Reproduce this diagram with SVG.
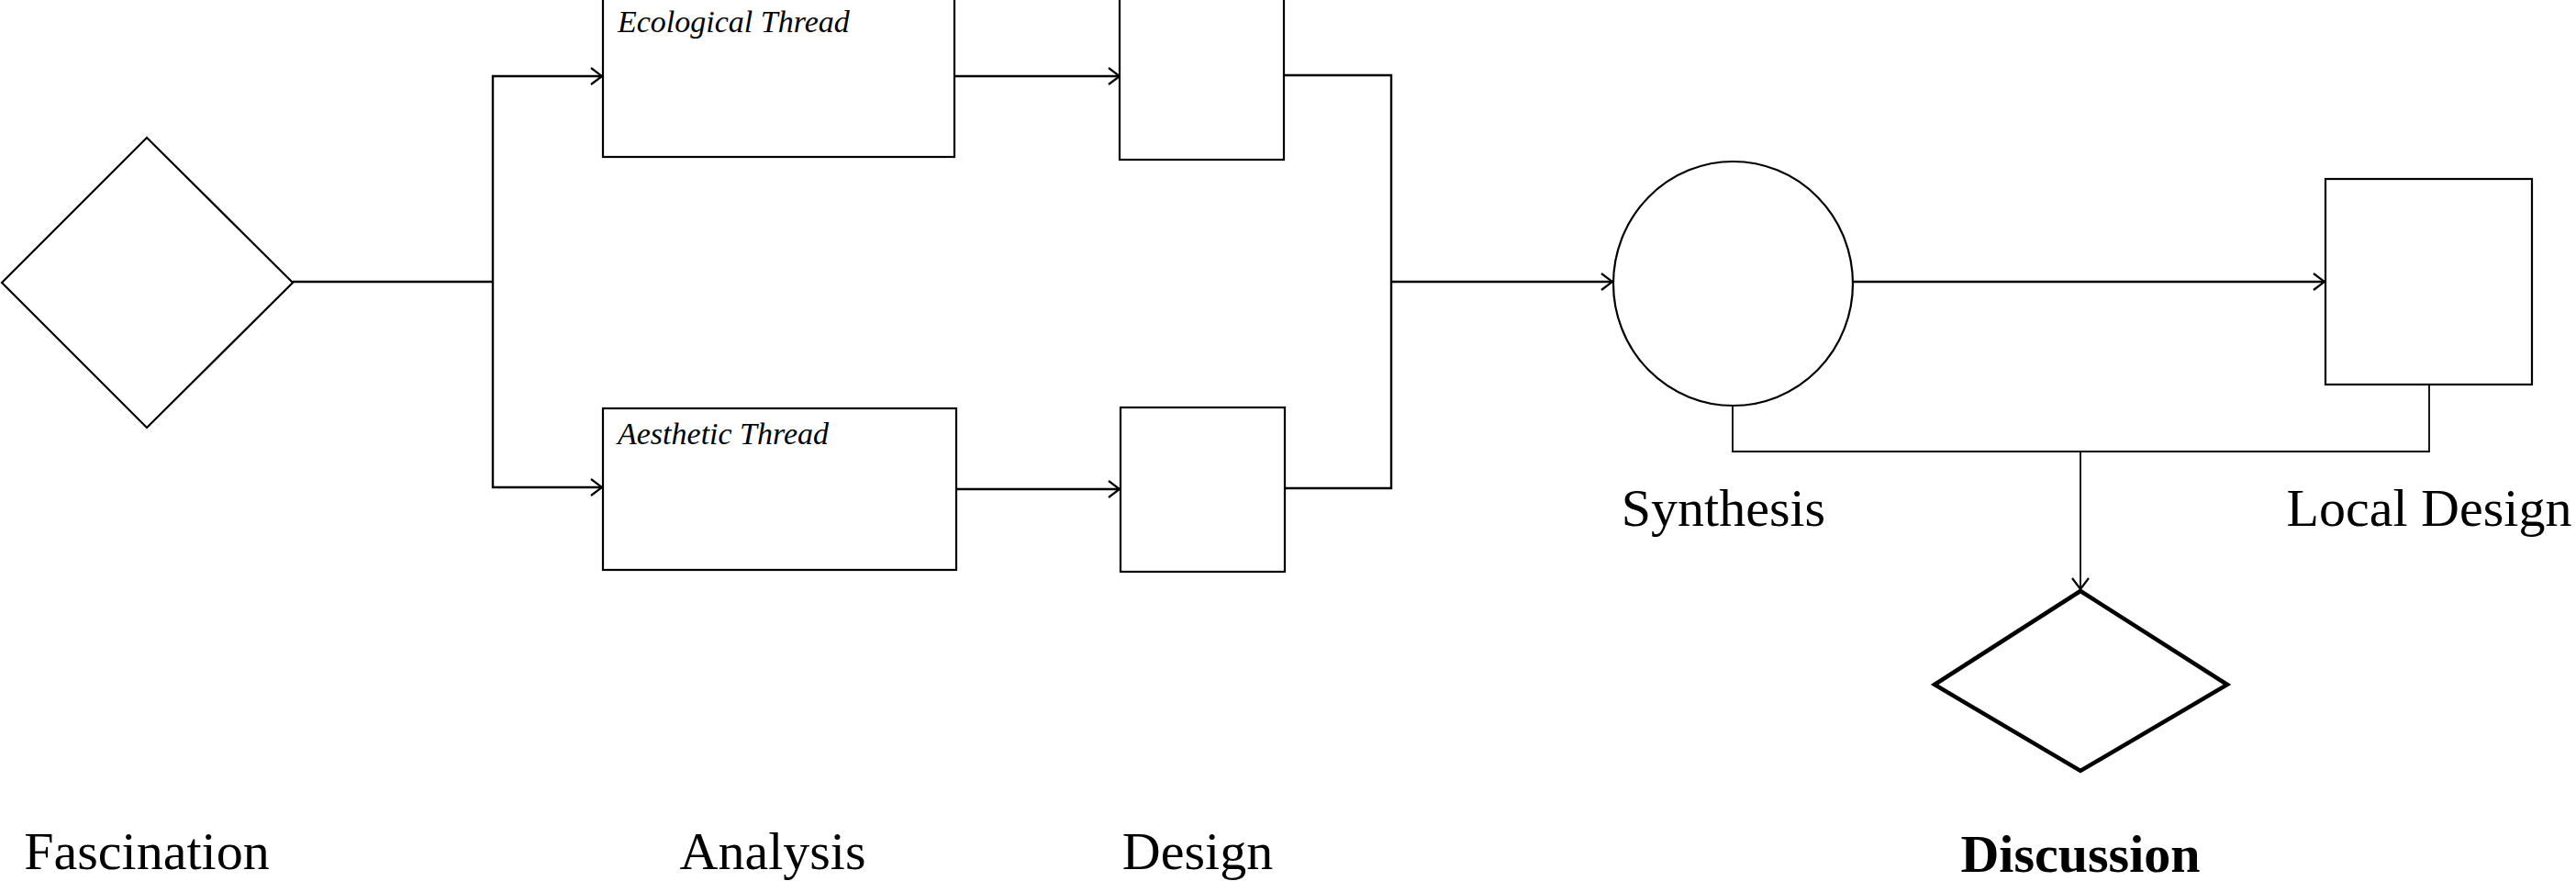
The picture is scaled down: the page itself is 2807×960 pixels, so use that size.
<svg xmlns="http://www.w3.org/2000/svg" width="2807" height="960" viewBox="0 0 2807 960">
<defs>
<style>
.shape{fill:#fff;stroke:#000;stroke-width:2.2}
.thick{fill:#fff;stroke:#000;stroke-width:4.5}
.conn{fill:none;stroke:#000;stroke-width:2.4}
.thin{fill:none;stroke:#000;stroke-width:1.8}
.lbl{font-family:"Liberation Serif","Times New Roman",serif;font-size:58px;fill:#000;text-anchor:middle}
.ital{font-family:"Liberation Serif","Times New Roman",serif;font-size:34px;font-style:italic;fill:#000}
</style>
<marker id="arr" viewBox="0 0 14 20" refX="13" refY="10" markerWidth="14" markerHeight="20" markerUnits="userSpaceOnUse" orient="auto">
<path d="M1,1 L13,10 L1,19" fill="none" stroke="#000" stroke-width="2.2"/>
</marker>
</defs>
<rect width="2807" height="960" fill="#fff"/>
<g id="connectors">
<path class="conn" d="M319,307 H537"/>
<path class="conn" d="M537,307 V83 H656" marker-end="url(#arr)"/>
<path class="conn" d="M537,307 V531 H656" marker-end="url(#arr)"/>
<path class="conn" d="M1040,83 H1220" marker-end="url(#arr)"/>
<path class="conn" d="M1042,533 H1220" marker-end="url(#arr)"/>
<path class="conn" d="M1399,82 H1516 V532 H1400"/>
<path class="conn" d="M1516,307 H1757" marker-end="url(#arr)"/>
<path class="conn" d="M2019,307 H2533" marker-end="url(#arr)"/>
<path class="thin" d="M1888,442 V492 H2647 V419"/>
<path class="thin" d="M2267,492 V642" marker-end="url(#arr)"/>
</g>
<g id="fascination">
<polygon class="shape" points="2,308 160,150 319,308 160,466"/>
<text class="lbl" x="160" y="947">Fascination</text>
</g>
<g id="ecological">
<rect class="shape" x="657" y="-10" width="383" height="181"/>
<text class="ital" x="673" y="35">Ecological Thread</text>
</g>
<g id="aesthetic">
<rect class="shape" x="657" y="445" width="385" height="176"/>
<text class="ital" x="673" y="484">Aesthetic Thread</text>
</g>
<g id="analysis">
<text class="lbl" x="842" y="947">Analysis</text>
</g>
<g id="design-top">
<rect class="shape" x="1220" y="-10" width="179" height="184"/>
</g>
<g id="design-bottom">
<rect class="shape" x="1221" y="444" width="179" height="179"/>
<text class="lbl" x="1305" y="947">Design</text>
</g>
<g id="synthesis">
<ellipse class="shape" cx="1888.5" cy="309" rx="130.5" ry="133"/>
<text class="lbl" x="1878" y="573" font-size="60">Synthesis</text>
</g>
<g id="local-design">
<rect class="shape" x="2534" y="195" width="225" height="224"/>
<text class="lbl" x="2647" y="573">Local Design</text>
</g>
<g id="discussion">
<polygon class="thick" points="2267,644 2427,746 2267,840 2108,746"/>
<text class="lbl" x="2267" y="950" font-weight="bold" font-size="61">Discussion</text>
</g>
</svg>
